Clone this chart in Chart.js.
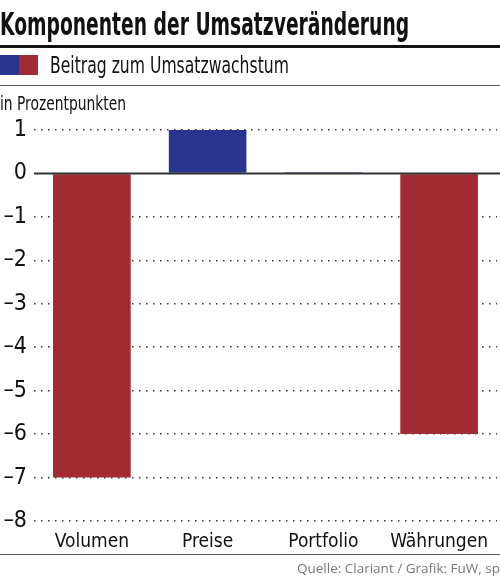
<!DOCTYPE html>
<html>
<head>
<meta charset="utf-8">
<script src="https://cdn.jsdelivr.net/npm/chart.js@4"></script>
<style>
  html, body { margin: 0; padding: 0; background: #fff; }
  #wrap { position: relative; width: 500px; height: 576px; overflow: hidden; }
  #chart { position: absolute; left: 0; top: 0; }
  .txt { position: absolute; white-space: nowrap; color: #111; font-family: "DejaVu Sans Condensed", sans-serif; transform-origin: 0 0; }
  #title { left: 0; top: 5px; font-size: 32px; font-weight: bold; transform: scaleX(0.65); }
  #rule1 { position: absolute; left: 0; top: 45px; width: 500px; height: 3px; background: #111; }
  #legBlue { position: absolute; left: 0; top: 55px; width: 19px; height: 20px; background: #2a3590; }
  #legRed { position: absolute; left: 19px; top: 55px; width: 19px; height: 20px; background: #a22a33; }
  #legText { left: 50px; top: 52px; font-size: 23px; transform: scaleX(0.755); }
  #rule2 { position: absolute; left: 0; top: 85px; width: 500px; height: 1px; background: #555; }
  #unit { left: 0; top: 92px; font-size: 19px; transform: scaleX(0.81); }
  #rule3 { position: absolute; left: 0; top: 554px; width: 500px; height: 1px; background: #555; }
  #source { right: 0; top: 559px; font-size: 13.5px; color: #777; font-family: "Open Sans", sans-serif; }
</style>
</head>
<body>
<div id="wrap">
  <canvas id="chart" width="500" height="576"></canvas>
  <div class="txt" id="title">Komponenten der Umsatzveränderung</div>
  <div id="rule1"></div>
  <div id="legBlue"></div><div id="legRed"></div>
  <div class="txt" id="legText">Beitrag zum Umsatzwachstum</div>
  <div id="rule2"></div>
  <div class="txt" id="unit">in Prozentpunkten</div>
  <div id="rule3"></div>
  <div class="txt" id="source">Quelle: Clariant / Grafik: FuW, sp</div>
</div>
<script>
// Daten
const kategorien = ['Volumen', 'Preise', 'Portfolio', 'Währungen'];
const beitrag = [-7, 1, 0.03, -6];
const yTicks = [1, 0, -1, -2, -3, -4, -5, -6, -7, -8];

const BLAU = '#2a3590';
const ROT = '#a22a33';
const SCHRIFT = '"DejaVu Sans Condensed", sans-serif';

// Nulllinie durchgehend zeichnen
const nullLinie = {
    id: 'nullLinie',
    afterDatasetsDraw(chart) {
        const y = chart.scales.y.getPixelForValue(0);
        const area = chart.chartArea;
        const ctx = chart.ctx;
        ctx.save();
        ctx.strokeStyle = '#333';
        ctx.lineWidth = 2;
        ctx.beginPath();
        ctx.moveTo(area.left, y);
        ctx.lineTo(500, y);
        ctx.stroke();
        ctx.restore();
    }
};

new Chart(document.getElementById('chart'), {
    type: 'bar',
    data: {
        labels: kategorien,
        datasets: [{
            label: 'Beitrag zum Umsatzwachstum',
            data: beitrag,
            backgroundColor: beitrag.map(v => v >= 0 ? BLAU : ROT),
            borderWidth: 0,
            barPercentage: 0.78,
            categoryPercentage: 0.86
        }]
    },
    options: {
        responsive: false,
        animation: false,
        devicePixelRatio: 1,
        layout: { padding: { top: 130, left: 0, right: 3, bottom: 0 } },
        plugins: {
            legend: { display: false },
            tooltip: { enabled: false }
        },
        scales: {
            x: {
                grid: { display: false },
                border: { display: false },
                ticks: {
                    color: '#111',
                    padding: 2,
                    font: { family: SCHRIFT, size: 19 }
                },
                afterFit: s => { s.height = 55; }
            },
            y: {
                min: -8,
                max: 1,
                afterBuildTicks: s => { s.ticks = yTicks.map(v => ({ value: v })); },
                afterFit: s => { s.width = 34; },
                grid: {
                    color: ctx => ctx.tick && ctx.tick.value === 0 ? 'rgba(0,0,0,0)' : '#333',
                    lineWidth: 1.5,
                    drawTicks: false
                },
                border: { display: false, dash: [1.5, 5.5] },
                ticks: {
                    color: '#111',
                    padding: 7,
                    font: { family: SCHRIFT, size: 23 },
                    callback: v => String(v).replace('-', '–')
                }
            }
        }
    },
    plugins: [nullLinie]
});
</script>
</body>
</html>
